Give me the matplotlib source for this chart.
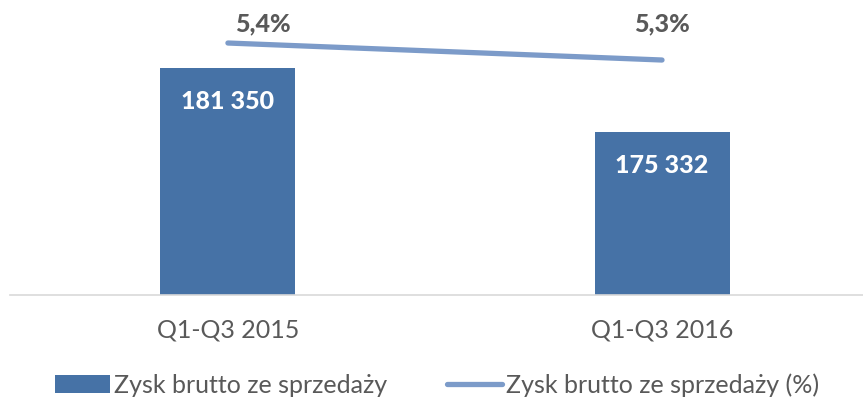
import matplotlib
matplotlib.use("Agg")
import matplotlib.pyplot as plt
from matplotlib.patches import Patch
from matplotlib.lines import Line2D

categories = ["Q1-Q3 2015", "Q1-Q3 2016"]
gross_profit = [181350, 175332]
gross_margin = [5.4, 5.3]
bar_labels = ["181 350", "175 332"]
margin_labels = ["5,4%", "5,3%"]
series_names = ["Zysk brutto ze sprzedaży", "Zysk brutto ze sprzedaży (%)"]

plt.rcParams['font.family'] = ['Lato', 'DejaVu Sans']

bar_color = "#4672A6"
line_color = "#7C9BC9"
text_gray = "#595959"

fig = plt.figure(figsize=(8.63, 4.01), dpi=100)
W, H = 863, 401
ax = fig.add_axes([10 / W, 1 - 295 / H, (863 - 10) / W, 295 / H])
x = list(range(len(categories)))
ax.bar(x, gross_profit, width=0.311, color=bar_color, zorder=2)
ax.set_xlim(-0.502, 1.463)
ax.set_ylim(160000, 187750)
for s in ["top", "right", "left"]:
    ax.spines[s].set_visible(False)
ax.spines["bottom"].set_color("#D9D9D9")
ax.spines["bottom"].set_linewidth(1.2)
ax.set_yticks([])
ax.set_xticks(x)
ax.set_xticklabels(categories, fontsize=18, color=text_gray)
ax.tick_params(axis="x", length=0, pad=17)

for xi, v, lab in zip(x, gross_profit, bar_labels):
    ax.annotate(lab, (xi, v), xytext=(0, -24), textcoords="offset points",
                ha="center", va="center", color="white", fontsize=18, fontweight="black")

ax2 = ax.twinx()
ax2.set_ylim(3.918, 5.653)
ax2.plot(x, gross_margin, color=line_color, linewidth=3.8, solid_capstyle="round", zorder=3)
ax2.axis("off")
offsets = [(25, 14), (0, 26)]
for xi, v, lab, off in zip(x, gross_margin, margin_labels, offsets):
    ax2.annotate(lab, (xi, v), xytext=off, textcoords="offset points",
                 ha="center", va="center", color=text_gray, fontsize=18, fontweight="black")

handles = [Patch(facecolor=bar_color, edgecolor="none"),
           Line2D([0], [0], color=line_color, linewidth=3.8, solid_capstyle="round")]
fig.legend(handles, series_names, loc="center", bbox_to_anchor=(437 / W, 1 - 385 / H),
           ncol=2, frameon=False, fontsize=18, labelcolor=text_gray,
           handlelength=2.2, handletextpad=0.15, columnspacing=2.4, handleheight=0.7)

fig.savefig("out.png", dpi=100)
